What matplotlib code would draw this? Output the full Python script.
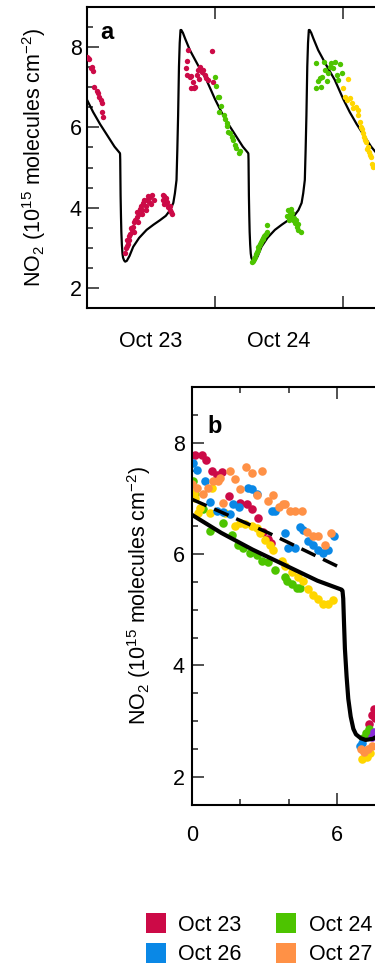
import numpy as np
import matplotlib
matplotlib.use("Agg")
import matplotlib.pyplot as plt
from matplotlib.lines import Line2D
from matplotlib.ticker import MultipleLocator, FixedLocator, FixedFormatter, NullFormatter

plt.rcParams["font.family"] = ["Liberation Sans", "DejaVu Sans"]
plt.rcParams["mathtext.fontset"] = "custom"
plt.rcParams["mathtext.rm"] = "Liberation Sans"
plt.rcParams["mathtext.it"] = "Liberation Sans:italic"
plt.rcParams["mathtext.bf"] = "Liberation Sans:bold"

# colours per day
day_names = ["Oct 23", "Oct 24", "Oct 25", "Oct 26", "Oct 27", "Oct 28"]
day_colors = ["#CC0A47", "#4DC400", "#FFD600", "#0A88E6", "#FF9146", "#8A2BD9"]

# model diurnal cycle (hour of day, NO2 column)
model_hour = [0, 1.2, 2.5, 3.9, 5.2, 6.2, 6.24, 6.27, 6.3, 6.34, 6.41, 6.48, 6.58, 6.69,
              6.8, 7.0, 7.2, 7.5, 8.0, 8.7, 9.8, 11.2, 12.5, 13.7, 14.8, 15.6, 16.2, 16.5,
              16.8, 16.95, 17.1, 17.26, 17.4, 17.55, 17.7, 18.0, 18.4, 19.3, 20.8, 22.4,
              24.0]
model_no2 = [6.70, 6.38, 6.08, 5.79, 5.52, 5.36, 5.34, 5.2, 4.8, 4.3, 3.8, 3.4, 3.08, 2.86,
             2.76, 2.69, 2.66, 2.68, 2.8, 3.03, 3.25, 3.45, 3.58, 3.69, 3.8, 3.94, 4.12,
             4.36, 4.69, 5.43, 6.3, 7.51, 8.1, 8.42, 8.42, 8.35, 8.21, 7.92, 7.55, 7.18,
             6.70]
n_days_a = 3

# second model run (dashed) in panel b
dash_hour = [0, 3.16, 6.27]
dash_no2 = [6.98, 6.38, 5.73]

# panel a observations, hours since Oct 23 00:00
a_oct23_h = [0.12, 0.3, 0.49, 0.74, 0.9, 1.12, 1.37, 1.87, 2.18, 2.37, 2.62, 2.8, 2.86, 3.11,
             7.17, 7.3, 7.48, 7.6, 7.7, 7.9, 8.1, 8.3, 8.5, 8.72, 8.9, 9.1, 9.35, 9.5, 9.7,
             9.97, 10.2, 10.4, 10.6, 10.8, 11.0, 11.2, 11.4, 11.6, 11.8, 12.0, 12.2, 12.5,
             8.0, 8.8, 9.6, 10.3, 11.1,
             14.2, 14.3, 14.5, 14.6, 14.8, 14.9, 15.1, 15.3, 15.5, 15.6, 15.8, 15.9, 14.4,
             18.6, 18.7, 19.0, 18.7, 19.3, 19.6, 19.9, 20.3, 20.6, 20.9, 21.2, 21.5, 21.8,
             22.1, 22.4, 22.7, 23.4, 23.7, 20.0, 21.0, 19.5]
a_oct23_v = [7.76, 7.72, 7.69, 7.47, 7.5, 7.41, 7.0, 6.91, 6.85, 6.75, 6.68, 6.61, 6.39, 6.25,
             2.87, 3.0, 3.2, 3.05, 3.1, 3.3, 3.36, 3.5, 3.45, 3.53, 3.65, 3.7, 3.78, 3.9, 3.85,
             3.98, 4.05, 3.95, 4.11, 4.2, 4.05, 4.19, 4.3, 4.15, 4.27, 4.1, 4.31, 4.2,
             3.2, 3.4, 3.65, 3.85, 3.95,
             4.31, 4.2, 4.3, 4.19, 4.25, 4.11, 4.15, 4.02, 4.05, 3.94, 3.9, 3.85, 4.1,
             7.47, 7.66, 7.92, 7.30, 7.26, 6.99, 7.13, 7.01, 7.3, 7.43, 7.51, 7.38, 7.43,
             7.3, 7.22, 7.18, 7.91, 7.13, 6.97, 7.2, 7.28]
a_oct24_h = [24.0, 24.2, 24.6, 24.8, 25.2, 24.8, 25.6, 25.9, 26.2, 26.5, 26.2, 26.8, 27.1,
             27.4, 27.7, 28.0, 28.4, 28.7,
             30.9, 31.1, 31.3, 31.5, 31.7, 31.8, 32.0, 32.1, 32.3, 32.4, 32.6, 32.7, 32.9,
             33.0, 33.2, 33.4, 33.6, 33.7, 33.8,
             37.5, 37.7, 37.8, 38.0, 38.2, 38.3, 38.6, 38.8, 39.0, 39.3, 39.5, 39.6, 40.1,
             38.4, 39.1,
             42.8, 44.4, 45.7, 46.4, 47.4, 44.6, 45.2, 43.6, 43.2, 42.8, 43.8, 45.0, 46.8,
             47.7, 47.1, 46.0, 44.0, 45.5]
a_oct24_v = [7.24, 7.03, 6.75, 6.75, 6.53, 6.39, 6.31, 6.2, 6.03, 5.89, 6.10, 5.85, 5.77,
             5.68, 5.56, 5.48, 5.35, 5.40,
             2.66, 2.68, 2.72, 2.78, 2.85, 2.9, 2.95, 3.03, 3.05, 3.11, 3.15, 3.2, 3.22,
             3.24, 3.3, 3.32, 3.36, 3.4, 3.56,
             3.8, 3.94, 3.7, 3.85, 3.78, 3.98, 3.69, 3.75, 3.61, 3.53, 3.6, 3.44, 3.40,
             3.88, 3.7,
             7.61, 7.62, 7.61, 7.62, 7.57, 7.43, 7.36, 7.22, 7.14, 6.97, 7.0, 7.14, 7.30,
             7.36, 7.18, 7.47, 7.25, 7.5]
a_oct25_h = [48.9, 48.0, 48.3, 48.6, 49.3, 49.6, 49.9, 50.3, 50.7, 50.8, 51.1, 51.3, 51.6,
             51.9, 52.2, 52.6, 52.8, 53.2, 53.4, 53.6, 51.5, 52.0, 52.5, 53.0]
a_oct25_v = [7.19, 6.97, 6.76, 6.68, 6.72, 6.60, 6.47, 6.5, 6.43, 6.31, 6.14, 6.02, 5.85,
             5.77, 5.64, 5.52, 5.39, 5.27, 5.10, 5.02, 5.95, 5.68, 5.45, 5.3]

# panel b observations, hour of day
b_oct23_h = [0.11, 0.39, 0.57, 0.81, 1.01, 1.22, 1.54, 1.98, 2.26, 2.47, 2.74, 2.95, 3.16,
             3.27, 7.35, 7.45, 7.55, 7.6]
b_oct23_v = [7.78, 7.78, 7.69, 7.50, 7.42, 7.47, 7.04, 6.92, 6.89, 6.80, 6.65, 6.40, 6.27,
             6.20, 2.95, 3.1, 3.22, 3.05]
b_oct24_h = [0.02, 0.11, 0.46, 0.74, 1.29, 1.64, 1.91, 2.12, 2.40, 2.67, 2.88, 3.16, 3.44,
             3.85, 3.92, 4.13, 4.34, 4.47, 7.1, 7.2, 7.35]
b_oct24_v = [7.31, 7.07, 6.80, 6.41, 6.56, 6.35, 6.17, 6.11, 6.02, 5.99, 5.87, 5.85, 5.71,
             5.58, 5.52, 5.46, 5.39, 5.39, 2.7, 2.78, 2.85]
b_oct25_h = [0.07, 0.11, 0.25, 0.32, 0.74, 0.80, 1.36, 1.77, 1.98, 2.19, 2.47, 2.68, 2.81,
             3.02, 3.23, 3.37, 3.71, 3.85, 4.13, 4.41, 4.61, 4.82, 5.03, 5.24, 5.44, 5.65,
             5.86, 7.05, 7.25, 7.4]
b_oct25_v = [7.10, 7.01, 6.74, 6.83, 6.74, 7.19, 6.74, 6.50, 6.56, 6.53, 6.50, 6.47, 6.38,
             6.26, 6.17, 6.08, 5.88, 5.79, 5.67, 5.58, 5.52, 5.37, 5.26, 5.19, 5.10, 5.10,
             5.18, 2.32, 2.35, 2.42]
b_oct26_h = [0.01, 0.18, 0.53, 0.74, 1.01, 1.29, 1.57, 1.71, 1.95, 2.33, 2.47, 2.67, 3.30,
             3.44, 3.85, 3.99, 4.27, 4.47, 4.61, 4.82, 5.03, 5.24, 5.44, 5.65, 5.90, 6.98,
             7.05]
b_oct26_v = [7.63, 7.51, 7.32, 6.94, 6.77, 6.76, 6.71, 6.90, 6.84, 7.19, 7.16, 7.07, 6.77,
             6.78, 6.38, 6.10, 6.10, 6.48, 6.44, 6.23, 6.17, 6.07, 6.01, 6.07, 6.32, 2.55,
             2.6]
b_oct27_h = [0.0, 0.18, 0.46, 0.67, 0.87, 1.08, 1.15, 1.29, 1.57, 1.77, 1.98, 2.23, 2.47,
             2.67, 2.88, 3.16, 3.37, 3.62, 3.78, 3.85, 4.06, 4.27, 4.54, 4.75, 5.03, 5.24,
             5.51, 5.76, 7.0, 7.15, 7.3, 7.45]
b_oct27_v = [7.25, 7.19, 7.07, 7.19, 7.31, 7.32, 7.37, 6.92, 7.49, 7.34, 7.16, 7.57, 7.46,
             7.06, 7.50, 6.95, 7.06, 6.84, 6.89, 6.90, 6.78, 6.77, 6.77, 6.40, 6.32, 6.32,
             6.17, 6.38, 2.5, 2.45, 2.5, 2.55]
b_oct28_h = [7.45, 7.55]
b_oct28_v = [2.72, 2.8]

W, H = 375, 966
fig = plt.figure(figsize=(W / 100, H / 100), dpi=100)


def px_axes(left, top, right, bottom):
    return fig.add_axes([left / W, 1 - bottom / H, (right - left) / W, (bottom - top) / H])


def style_axes(ax, ypad, xpad):
    for side in ["left", "top", "bottom"]:
        ax.spines[side].set_linewidth(1.5)
    ax.spines["right"].set_visible(False)
    ax.set_ylim(1.5, 9)
    ax.yaxis.set_major_locator(MultipleLocator(2))
    ax.yaxis.set_minor_locator(MultipleLocator(0.5))
    ax.tick_params(which="both", direction="in", top=True, right=False, width=1.1,
                   labelsize=15.5, color="#222222")
    ax.tick_params(which="major", length=8.6)
    ax.tick_params(which="minor", length=4.3)
    ax.tick_params(axis="y", pad=ypad)
    ax.tick_params(axis="x", which="both", pad=xpad)


ylabel = r"NO$_2$ (10$^{15}$ molecules cm$^{-2}$)"

# ---- panel a
ax_a = px_axes(86.7, 6.7, W, 308.3)
style_axes(ax_a, 3.5, 16.5)
ax_a.set_xlim(0, (W - 86.7) / 5.346)
x_line = np.concatenate([np.array(model_hour) + 24 * d for d in range(n_days_a)])
y_line = np.concatenate([model_no2 for d in range(n_days_a)])
ax_a.plot(x_line, y_line, color="black", lw=1.6, zorder=2)
ax_a.scatter(a_oct23_h, a_oct23_v, s=15, color=day_colors[0], linewidths=0, zorder=3)
ax_a.scatter(a_oct24_h, a_oct24_v, s=15, color=day_colors[1], linewidths=0, zorder=3)
ax_a.scatter(a_oct25_h, a_oct25_v, s=15, color=day_colors[2], linewidths=0, zorder=3)
ax_a.xaxis.set_major_locator(FixedLocator([24, 48, 72]))
ax_a.xaxis.set_major_formatter(NullFormatter())
ax_a.xaxis.set_minor_locator(FixedLocator([12, 36, 60]))
ax_a.xaxis.set_minor_formatter(FixedFormatter(["Oct 23", "Oct 24", "Oct 25"]))
ax_a.tick_params(axis="x", which="minor", length=0, labelsize=15.5, pad=16.5)
ax_a.set_ylabel(ylabel, fontsize=15.5)
ax_a.yaxis.set_label_coords((48.5 - 86.7) / (W - 86.7), 0.5)
ax_a.text(13.3 / (W - 86.7), 1 - 32 / 301.6, "a", transform=ax_a.transAxes,
          fontsize=17, fontweight="bold", va="baseline")

# ---- panel b
ax_b = px_axes(192.3, 387, W, 804.5)
style_axes(ax_b, 5.5, 15)
ax_b.set_xlim(0, (W - 192.3) / 24.07)
ax_b.xaxis.set_major_locator(MultipleLocator(6))
ax_b.xaxis.set_minor_locator(MultipleLocator(2))
b_sets = [(b_oct23_h, b_oct23_v), (b_oct24_h, b_oct24_v), (b_oct25_h, b_oct25_v),
          (b_oct26_h, b_oct26_v), (b_oct27_h, b_oct27_v), (b_oct28_h, b_oct28_v)]
for (hh, vv), col in zip(b_sets, day_colors):
    ax_b.scatter(hh, vv, s=38, color=col, linewidths=0, zorder=2)
ax_b.plot(model_hour, model_no2, color="black", lw=3, zorder=4)
ax_b.plot(dash_hour, dash_no2, color="black", lw=2.5, ls=(0, (4.5, 2.4)), zorder=4)
ax_b.set_ylabel(ylabel, fontsize=15.5)
ax_b.yaxis.set_label_coords((153.3 - 192.3) / (W - 192.3), 0.5)
ax_b.text(14.7 / (W - 192.3), 1 - 45.7 / 417.5, "b", transform=ax_b.transAxes,
          fontsize=17, fontweight="bold", va="baseline")

# ---- legend, row-wise order
order = [0, 3, 1, 4, 2, 5]
handles = [Line2D([], [], ls="none", marker="s", markersize=14.4,
                  markerfacecolor=day_colors[i], markeredgewidth=0) for i in order]
fig.legend(handles, [day_names[i] for i in order], ncol=3, loc="upper left",
           bbox_to_anchor=(145 / W, 1 - 915 / H), frameon=False, fontsize=15.5,
           handlelength=1.0, handletextpad=0.54, columnspacing=1.58,
           labelspacing=0.38, borderpad=0, borderaxespad=0)

fig.savefig("out.png", dpi=100)
